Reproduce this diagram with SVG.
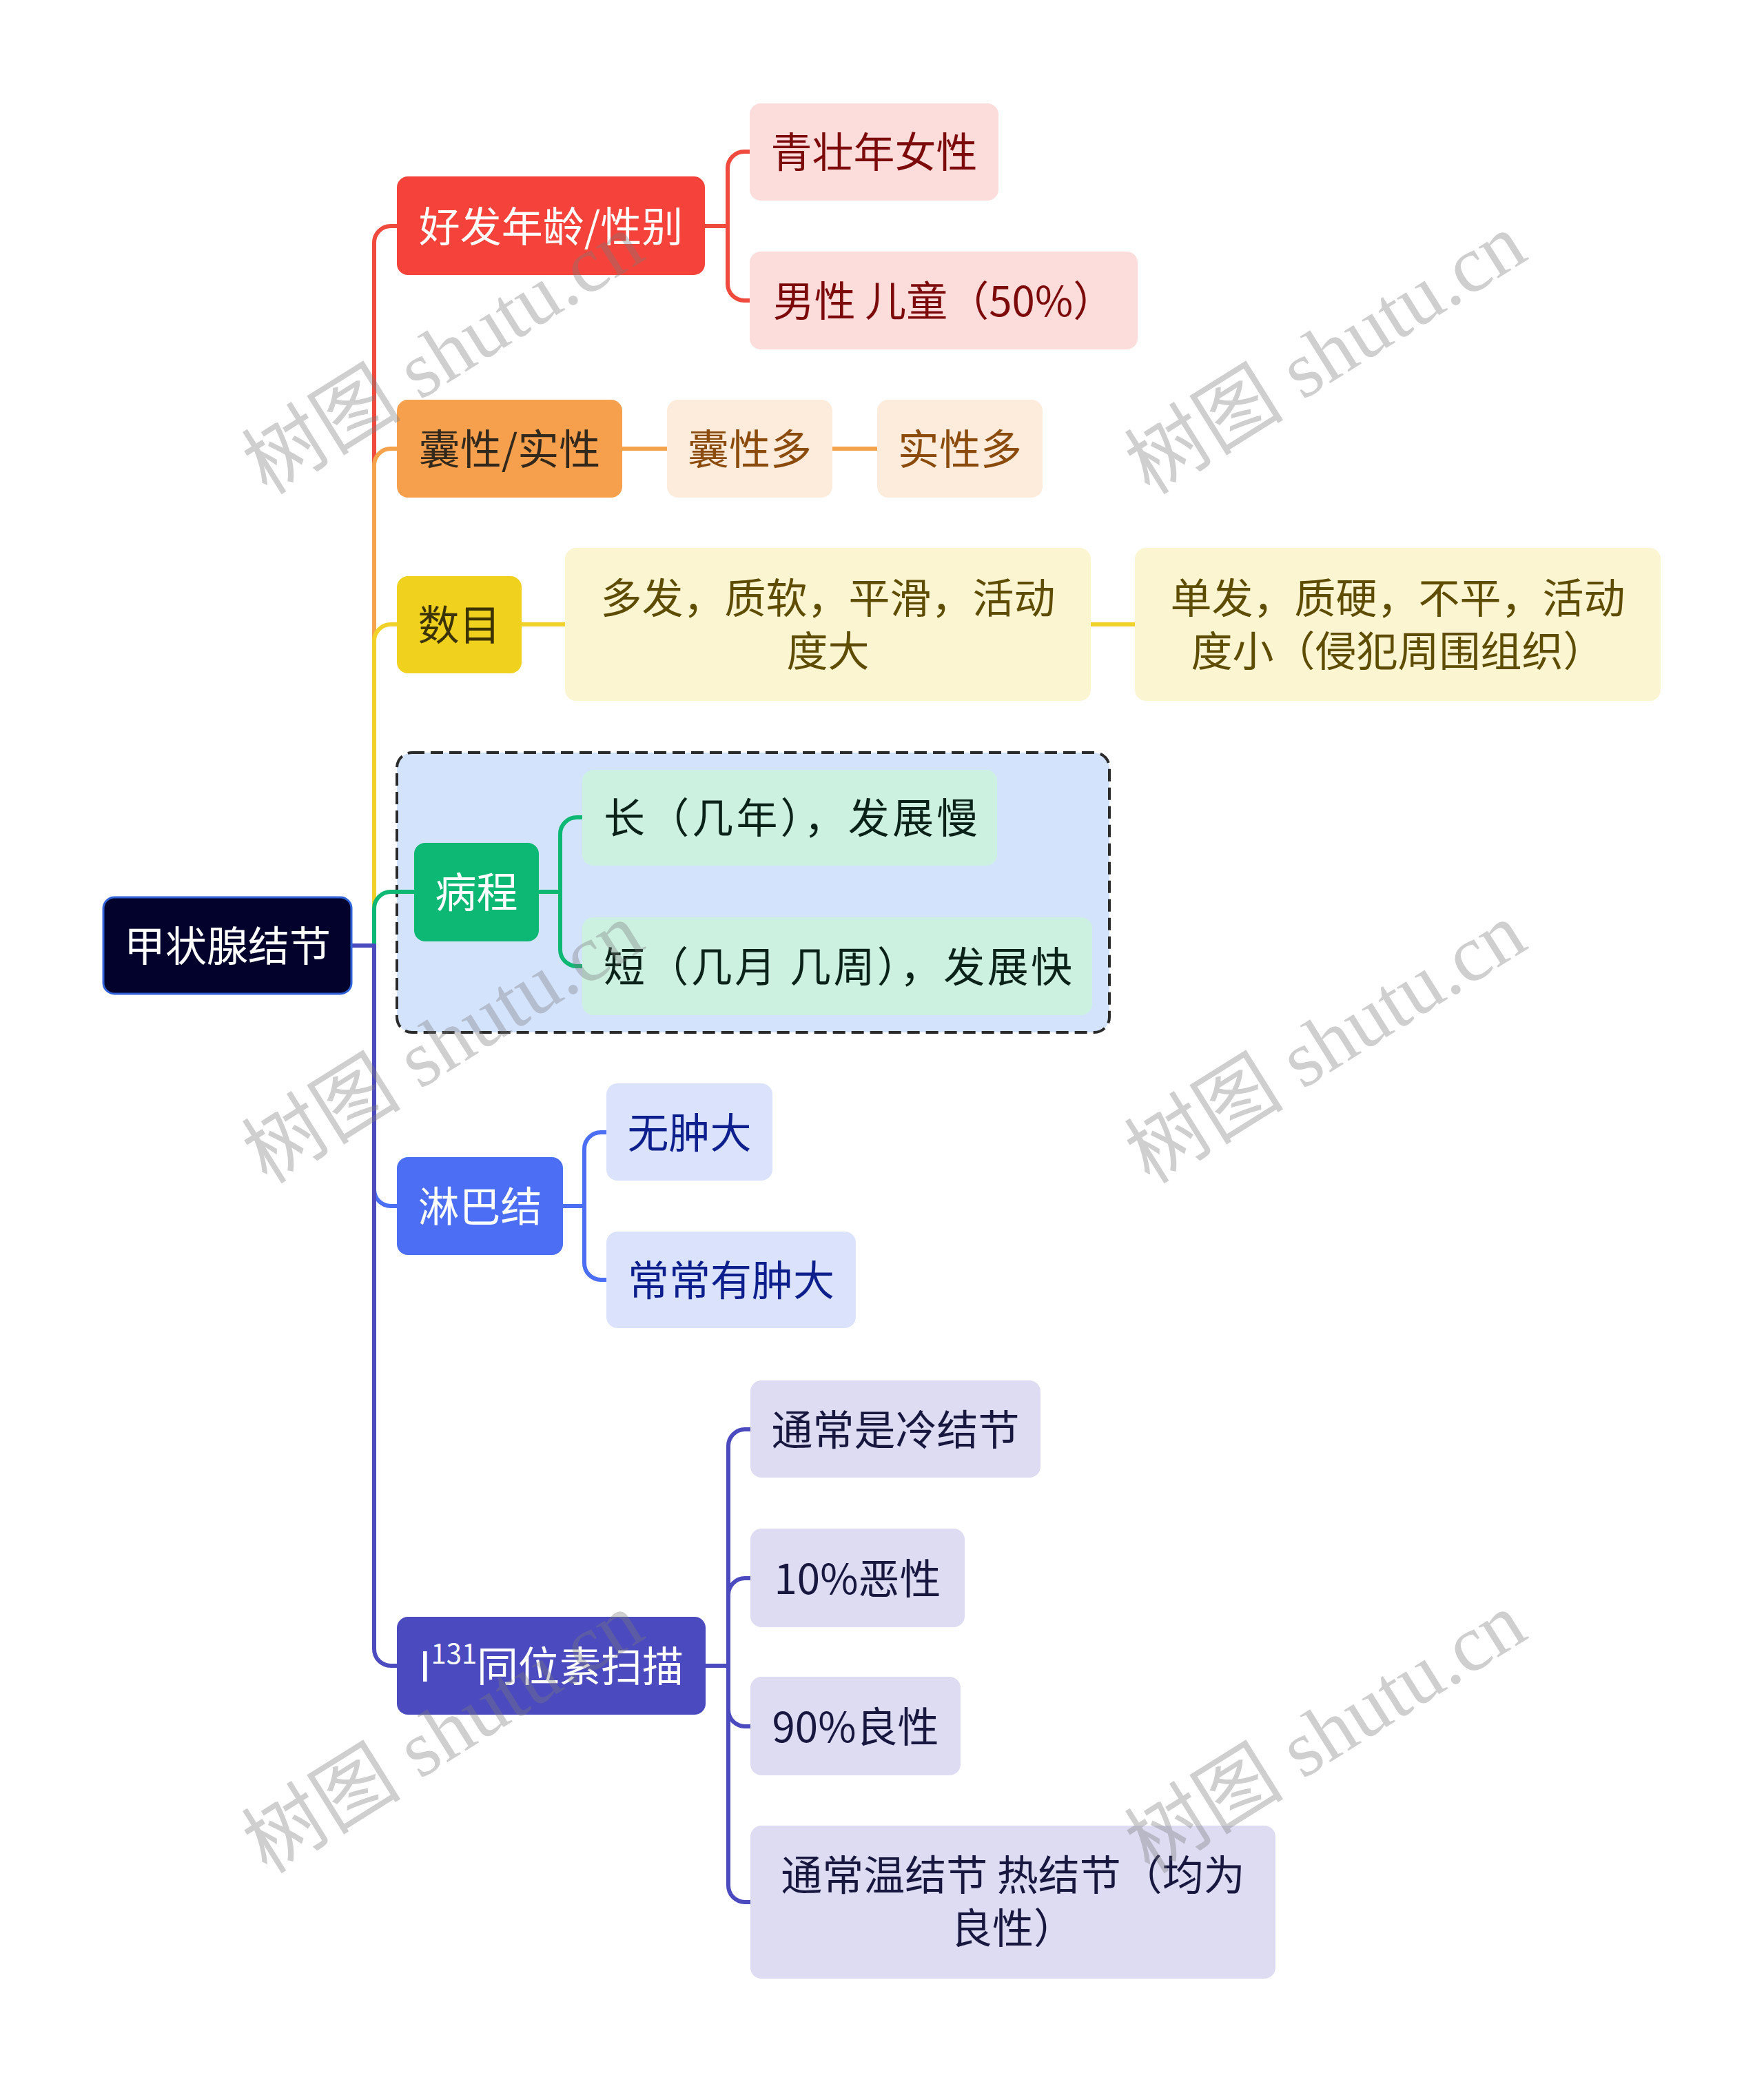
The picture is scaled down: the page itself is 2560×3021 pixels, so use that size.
<svg xmlns="http://www.w3.org/2000/svg" width="2560" height="3021" viewBox="0 0 2560 3021">
<style>
text{font-family:"Noto Sans CJK SC","Noto Sans",sans-serif;font-size:60px;text-anchor:middle}
.c{fill:none;stroke-width:6;stroke-linecap:round;stroke-linejoin:round}
.wm{font-family:"Liberation Serif","Noto Sans CJK SC",serif;font-size:116px;fill:#7a7a7a;fill-opacity:0.36;text-anchor:middle;dominant-baseline:central}
</style>
<rect width="2560" height="3021" fill="#ffffff"/>
<g id="dashed-boundary">
<rect x="576" y="1092" width="1034" height="406" rx="22" fill="#d4e3fc" stroke="#2b2b2b" stroke-width="4" stroke-dasharray="18 9"/>
</g>
<g id="connectors">
<path class="c" stroke="#f04a3e" d="M510 1372 H543 V352 A24 24 0 0 1 567 328 H576"/>
<path class="c" stroke="#f4a24c" d="M510 1372 H543 V675 A24 24 0 0 1 567 651 H576"/>
<path class="c" stroke="#f0d22a" d="M510 1372 H543 V930 A24 24 0 0 1 567 906 H576"/>
<path class="c" stroke="#0cb874" d="M510 1372 H543 V1318 A24 24 0 0 1 567 1294 H601"/>
<path class="c" stroke="#4b6ef5" d="M510 1372 H543 V1726 A24 24 0 0 0 567 1750 H576"/>
<path class="c" stroke="#4c4abf" d="M510 1372 H543 V2393 A24 24 0 0 0 567 2417 H576"/>
<path class="c" stroke="#f04a3e" d="M1023 328 H1056 V244 A24 24 0 0 1 1080 220 H1088 M1056 328 V412 A24 24 0 0 0 1080 436 H1088"/>
<path class="c" stroke="#f4a24c" d="M903 651 H968 M1208 651 H1273"/>
<path class="c" stroke="#f0d22a" d="M757 906 H820 M1583 906 H1647"/>
<path class="c" stroke="#0cb874" d="M782 1294 H813 V1210 A24 24 0 0 1 837 1186 H845 M813 1294 V1378 A24 24 0 0 0 837 1402 H845"/>
<path class="c" stroke="#4b6ef5" d="M817 1750 H848 V1667 A24 24 0 0 1 872 1643 H880 M848 1750 V1833 A24 24 0 0 0 872 1857 H880"/>
<path class="c" stroke="#4c4abf" d="M1024 2417 H1057 V2098 A24 24 0 0 1 1081 2074 H1089 M1057 2417 V2314 A24 24 0 0 1 1081 2290 H1089 M1057 2417 V2481 A24 24 0 0 0 1081 2505 H1089 M1057 2417 V2736 A24 24 0 0 0 1081 2760 H1089"/>
</g>
<g id="root">
<rect x="150" y="1302" width="360" height="140" rx="16" fill="#03022c" stroke="#3163d8" stroke-width="3"/>
<text x="330" y="1395" fill="#ffffff">甲状腺结节</text>
</g>
<g id="n-age">
<rect x="576" y="256" width="447" height="143" rx="16" fill="#f5433b"/>
<text x="799.5" y="351" fill="#ffffff">好发年龄/性别</text>
</g>
<g id="n-age-1">
<rect x="1088" y="150" width="361" height="141" rx="16" fill="#fddcdc"/>
<text x="1268.5" y="243" fill="#7c0a0a">青壮年女性</text>
</g>
<g id="n-age-2">
<rect x="1088" y="365" width="563" height="142" rx="16" fill="#fddcdc"/>
<text x="1369.5" y="459" fill="#7c0a0a">男性 儿童（50%）</text>
</g>
<g id="n-cyst">
<rect x="576" y="580" width="327" height="142" rx="16" fill="#f6a04d"/>
<text x="739.5" y="674" fill="#33281c">囊性/实性</text>
</g>
<g id="n-cyst-1">
<rect x="968" y="580" width="240" height="142" rx="16" fill="#fdecdc"/>
<text x="1088" y="674" fill="#8a4b0c">囊性多</text>
</g>
<g id="n-cyst-2">
<rect x="1273" y="580" width="240" height="142" rx="16" fill="#fdecdc"/>
<text x="1393" y="674" fill="#8a4b0c">实性多</text>
</g>
<g id="n-num">
<rect x="576" y="836" width="181" height="141" rx="16" fill="#f0d21e"/>
<text x="666.5" y="929" fill="#3b3300">数目</text>
</g>
<g id="n-num-1">
<rect x="820" y="795" width="763" height="222" rx="16" fill="#fcf5d2"/>
<text x="1201.5" y="890" fill="#5e4d00">多发，质软，平滑，活动</text>
<text x="1201.5" y="967" fill="#5e4d00">度大</text>
</g>
<g id="n-num-2">
<rect x="1647" y="795" width="763" height="222" rx="16" fill="#fcf5d2"/>
<text x="2028.5" y="890" fill="#5e4d00">单发，质硬，不平，活动</text>
<text x="2028.5" y="967" fill="#5e4d00">度小（侵犯周围组织）</text>
</g>
<g id="n-course">
<rect x="601" y="1223" width="181" height="143" rx="16" fill="#0cb874"/>
<text x="691.5" y="1317" fill="#ffffff">病程</text>
</g>
<g id="n-course-1">
<rect x="845" y="1117" width="602" height="139" rx="16" fill="#cdf1e1"/>
<text x="876" y="1209" fill="#0b2218" style="text-anchor:start" textLength="543" lengthAdjust="spacing">长（几年），发展慢</text>
</g>
<g id="n-course-2">
<rect x="845" y="1331" width="740" height="142" rx="16" fill="#cdf1e1"/>
<text x="876" y="1425" fill="#0b2218" style="text-anchor:start" textLength="680" lengthAdjust="spacing">短（几月 几周），发展快</text>
</g>
<g id="n-lymph">
<rect x="576" y="1679" width="241" height="142" rx="16" fill="#4b6ef5"/>
<text x="696.5" y="1773" fill="#ffffff">淋巴结</text>
</g>
<g id="n-lymph-1">
<rect x="880" y="1572" width="241" height="141" rx="16" fill="#dbe2fb"/>
<text x="1000.5" y="1666" fill="#0d1f8c">无肿大</text>
</g>
<g id="n-lymph-2">
<rect x="880" y="1787" width="362" height="140" rx="16" fill="#dbe2fb"/>
<text x="1061" y="1880" fill="#0d1f8c">常常有肿大</text>
</g>
<g id="n-scan">
<rect x="576" y="2346" width="448" height="142" rx="16" fill="#4c4abf"/>
<text x="800" y="2440" fill="#ffffff">I<tspan font-size="40" dy="-26">131</tspan><tspan dy="26">同位素扫描</tspan></text>
</g>
<g id="n-scan-1">
<rect x="1089" y="2003" width="421" height="141" rx="16" fill="#dddcf2"/>
<text x="1299.5" y="2097" fill="#17173f">通常是冷结节</text>
</g>
<g id="n-scan-2">
<rect x="1089" y="2218" width="311" height="143" rx="16" fill="#dddcf2"/>
<text x="1244.5" y="2313" fill="#17173f">10%恶性</text>
</g>
<g id="n-scan-3">
<rect x="1089" y="2433" width="305" height="143" rx="16" fill="#dddcf2"/>
<text x="1241.5" y="2528" fill="#17173f">90%良性</text>
</g>
<g id="n-scan-4">
<rect x="1089" y="2649" width="762" height="222" rx="16" fill="#dddcf2"/>
<text x="1470" y="2743" fill="#17173f">通常温结节 热结节（均为</text>
<text x="1470" y="2820" fill="#17173f">良性）</text>
</g>
<g id="watermarks">
<text class="wm" transform="translate(643 514) rotate(-32)">树图 shutu.cn</text>
<text class="wm" transform="translate(1924 514) rotate(-32)">树图 shutu.cn</text>
<text class="wm" transform="translate(643 1514) rotate(-32)">树图 shutu.cn</text>
<text class="wm" transform="translate(1924 1514) rotate(-32)">树图 shutu.cn</text>
<text class="wm" transform="translate(643 2515) rotate(-32)">树图 shutu.cn</text>
<text class="wm" transform="translate(1924 2515) rotate(-32)">树图 shutu.cn</text>
</g>
</svg>
